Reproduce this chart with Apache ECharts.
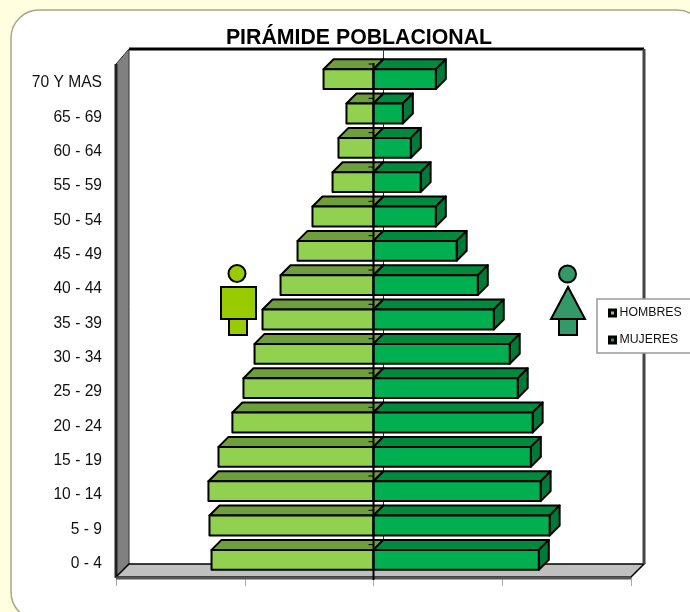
<!DOCTYPE html>
<html>
<head>
<meta charset="utf-8">
<title>Pirámide poblacional</title>
<script src="https://cdn.jsdelivr.net/npm/echarts@6/dist/echarts.min.js"></script>
<style>
  html, body { margin: 0; padding: 0; background: #FFFFE0; overflow: hidden; }
  #chart { width: 690px; height: 612px; }
</style>
</head>
<body>
<div id="chart"></div>
<script>
const categories = ['0 - 4', '5 - 9', '10 - 14', '15 - 19', '20 - 24', '25 - 29', '30 - 34', '35 - 39',
  '40 - 44', '45 - 49', '50 - 54', '55 - 59', '60 - 64', '65 - 69', '70 Y MAS']
const hombres = [6.29, 6.37, 6.41, 6.02, 5.48, 5.05, 4.62, 4.31, 3.61, 2.95, 2.37, 1.59, 1.36, 1.05, 1.94]
const mujeres = [6.42, 6.84, 6.49, 6.11, 6.18, 5.60, 5.29, 4.67, 4.05, 3.23, 2.42, 1.83, 1.45, 1.14, 2.42]

const FONT = '"Liberation Sans", Arial, sans-serif'
const BAR_DEPTH = 10
const WALL_DEPTH = 13

// front, top and side colours of each 3D bar
const MEN = { front: '#92D050', top: '#6F9F3A', side: '#6F9F3A' }
const WOMEN = { front: '#00B050', top: '#008A3E', side: '#007A38' }

function box3d(params, api, colors) {
  const idx = api.value(0)
  const val = api.value(1)
  const end = api.coord([val, idx])
  const base = api.coord([0, idx])
  const h = api.size([0, 1])[1] * 0.58
  const d = BAR_DEPTH
  const x0 = Math.min(end[0], base[0])
  const x1 = Math.max(end[0], base[0])
  const y0 = end[1] - h / 2
  const y1 = end[1] + h / 2
  const line = { stroke: '#000', lineWidth: 2, lineJoin: 'round' }
  return {
    type: 'group',
    children: [
      {
        type: 'polygon',
        shape: { points: [[x0, y0], [x0 + d, y0 - d], [x1 + d, y0 - d], [x1, y0]] },
        style: { fill: colors.top, ...line },
      },
      {
        type: 'polygon',
        shape: { points: [[x1, y0], [x1 + d, y0 - d], [x1 + d, y1 - d], [x1, y1]] },
        style: { fill: colors.side, ...line },
      },
      {
        type: 'rect',
        shape: { x: x0, y: y0, width: x1 - x0, height: y1 - y0 },
        style: { fill: colors.front, ...line },
      },
    ],
  }
}

// walls and floor of the 3D plot area
function renderFrame(params, api) {
  const cs = params.coordSys
  const d = WALL_DEPTH
  const l = cs.x
  const r = cs.x + cs.width
  const t = cs.y
  const b = cs.y + cs.height
  const mid = api.coord([0, 0])[0]
  return {
    type: 'group',
    silent: true,
    children: [
      {
        type: 'polygon',
        shape: { points: [[l, t + 2], [l + d, t - d], [l + d, b - d], [l, b]] },
        style: { fill: '#808080', stroke: '#333', lineWidth: 1 },
      },
      {
        type: 'line',
        shape: { x1: l, y1: t + 2, x2: l, y2: b },
        style: { stroke: '#222', lineWidth: 3 },
      },
      {
        type: 'polygon',
        shape: { points: [[l, b], [l + d, b - d], [r + d, b - d], [r, b]] },
        style: { fill: '#C0C0C0', stroke: '#000', lineWidth: 1.5 },
      },
      {
        type: 'line',
        shape: { x1: l, y1: b + 1, x2: r, y2: b + 1 },
        style: { stroke: '#555', lineWidth: 3 },
      },
      {
        type: 'line',
        shape: { x1: l + d, y1: t - d, x2: r + d, y2: t - d },
        style: { stroke: '#000', lineWidth: 3 },
      },
      {
        type: 'line',
        shape: { x1: r + d, y1: t - d, x2: r + d, y2: b - d },
        style: { stroke: '#444', lineWidth: 3 },
      },
      {
        type: 'line',
        shape: { x1: mid + BAR_DEPTH, y1: t - d, x2: mid + BAR_DEPTH, y2: b - d },
        style: { stroke: '#333', lineWidth: 1 },
      },
    ],
  }
}

// centre axis drawn over the bars, with its small ticks
function renderCentre(params, api) {
  const cs = params.coordSys
  const mid = api.coord([0, 0])[0]
  const band = api.size([0, 1])[1]
  const children = [{
    type: 'line',
    shape: { x1: mid, y1: cs.y + 1, x2: mid, y2: cs.y + cs.height + 3 },
    style: { stroke: '#000', lineWidth: 2 },
  }]
  categories.forEach((c, i) => {
    const y = cs.y + 2 + i * band
    children.push({
      type: 'line',
      shape: { x1: mid - 5, y1: y, x2: mid, y2: y },
      style: { stroke: '#000', lineWidth: 1 },
    })
  })
  return { type: 'group', silent: true, children }
}

const chart = echarts.init(document.getElementById('chart'), null, { renderer: 'canvas' })

chart.setOption({
  animation: false,
  backgroundColor: 'transparent',
  textStyle: { fontFamily: FONT },
  title: {
    text: 'PIRÁMIDE POBLACIONAL',
    left: 354,
    top: 23,
    textAlign: 'center',
    textStyle: { fontFamily: FONT, fontSize: 21.3, fontWeight: 'bold', color: '#000' },
  },
  grid: { left: 116, top: 62, width: 515, height: 515 },
  xAxis: {
    type: 'value',
    min: -10,
    max: 10,
    interval: 5,
    axisLine: { show: false },
    axisLabel: { show: false },
    splitLine: { show: false },
    axisTick: { show: true, length: 9, lineStyle: { color: '#AAA', width: 1 } },
  },
  yAxis: {
    type: 'category',
    data: categories,
    axisLine: { show: false },
    axisTick: { show: false },
    axisLabel: {
      margin: 14,
      interval: 0,
      formatter: v => `{a|${v}}`,
      // the labels sit a little below their bars in the reference
      rich: { a: { fontFamily: FONT, fontSize: 15.6, color: '#111', padding: [8, 0, 0, 0] } },
    },
  },
  legend: {
    left: 608,
    top: 307,
    orient: 'vertical',
    itemWidth: 6,
    itemHeight: 6,
    itemGap: 15,
    padding: 0,
    selectedMode: false,
    textStyle: { fontFamily: FONT, fontSize: 12.3, color: '#111', padding: [1, 0, 0, -1] },
    data: [
      { name: 'HOMBRES', icon: 'rect', itemStyle: { color: MEN.front, borderColor: '#000', borderWidth: 3 } },
      { name: 'MUJERES', icon: 'rect', itemStyle: { color: WOMEN.front, borderColor: '#000', borderWidth: 3 } },
    ],
  },
  graphic: [
    {
      type: 'rect', z: -10, silent: true,
      shape: { x: 11, y: 10, width: 694, height: 610, r: 28 },
      style: { fill: '#fff', stroke: '#A6A68A', lineWidth: 1.5 },
    },
    // man icon
    {
      type: 'group', z: 3, silent: true,
      children: [
        { type: 'circle', shape: { cx: 237, cy: 273.5, r: 8.5 }, style: { fill: '#99CC00', stroke: '#000', lineWidth: 2 } },
        { type: 'rect', shape: { x: 229, y: 319, width: 18, height: 16 }, style: { fill: '#99CC00', stroke: '#000', lineWidth: 2 } },
        { type: 'rect', shape: { x: 221, y: 287, width: 35, height: 32 }, style: { fill: '#99CC00', stroke: '#000', lineWidth: 2 } },
      ],
    },
    // woman icon
    {
      type: 'group', z: 3, silent: true,
      children: [
        { type: 'circle', shape: { cx: 567.5, cy: 274, r: 8.5 }, style: { fill: '#339966', stroke: '#000', lineWidth: 2 } },
        { type: 'rect', shape: { x: 559, y: 319, width: 18, height: 16 }, style: { fill: '#339966', stroke: '#000', lineWidth: 2 } },
        { type: 'polygon', shape: { points: [[568, 287], [551, 319], [585, 319]] }, style: { fill: '#339966', stroke: '#000', lineWidth: 2 } },
      ],
    },
    // legend box
    {
      type: 'rect', z: 3, silent: true,
      shape: { x: 597, y: 299, width: 100, height: 54 },
      style: { fill: '#fff', stroke: '#999', lineWidth: 1.5 },
    },
  ],
  series: [
    {
      type: 'custom',
      name: 'frame',
      z: 1,
      renderItem: renderFrame,
      data: [[0, 0]],
      silent: true,
      clip: false,
    },
    {
      type: 'custom',
      name: 'HOMBRES',
      z: 2,
      itemStyle: { color: MEN.front },
      renderItem: (p, api) => box3d(p, api, MEN),
      data: hombres.map((v, i) => [i, -v]),
      encode: { x: 1, y: 0 },
      clip: false,
    },
    {
      type: 'custom',
      name: 'MUJERES',
      z: 2,
      itemStyle: { color: WOMEN.front },
      renderItem: (p, api) => box3d(p, api, WOMEN),
      data: mujeres.map((v, i) => [i, v]),
      encode: { x: 1, y: 0 },
      clip: false,
    },
    {
      type: 'custom',
      name: 'centre',
      z: 3,
      renderItem: renderCentre,
      data: [[0, 0]],
      silent: true,
      clip: false,
    },
  ],
})
</script>
</body>
</html>
